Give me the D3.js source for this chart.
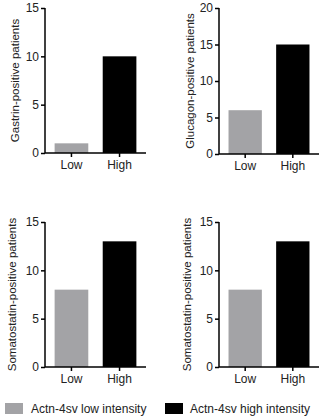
<!DOCTYPE html>
<html><head><meta charset="utf-8">
<script src="https://cdn.jsdelivr.net/npm/d3@7"></script>
<style>
html,body{margin:0;padding:0;background:#fff;}
svg{display:block;font-family:"Liberation Sans",Arial,sans-serif;}
</style></head>
<body>
<svg id="chart" width="321" height="420"></svg>
<script>
const categories = ["Low", "High"];
const panelLabels = ["Gastrin-positive patients", "Glucagon-positive patients", "Somatostatin-positive patients", "Somatostatin-positive patients"];
const lowValues = [1, 6, 8, 8];
const highValues = [10, 15, 13, 13];
const yMaxes = [15, 20, 15, 15];
const yTicks = [[0, 5, 10, 15], [0, 5, 10, 15, 20], [0, 5, 10, 15], [0, 5, 10, 15]];
const legendLabels = ["Actn-4sv low intensity", "Actn-4sv high intensity"];
const colors = {Low: "#a3a3a6", High: "#000000"};

const svg = d3.select("#chart");
const layouts = [
  {x0: 45, x1: 146, top: 8, bottom: 153, labelX: 16},
  {x0: 219, x1: 319, top: 8, bottom: 154, labelX: 191},
  {x0: 45, x1: 146, top: 222, bottom: 367, labelX: 13},
  {x0: 219, x1: 319, top: 222, bottom: 367, labelX: 188}
];

layouts.forEach((L, i) => {
  const g = svg.append("g");
  const x = d3.scaleBand().domain(categories).range([L.x0, L.x1]).paddingInner(0.3).paddingOuter(0.2);
  const y = d3.scaleLinear().domain([0, yMaxes[i]]).range([L.bottom, L.top]);
  const vals = {Low: lowValues[i], High: highValues[i]};

  g.selectAll("rect").data(categories).join("rect")
    .attr("x", d => x(d)).attr("width", x.bandwidth())
    .attr("y", d => y(vals[d])).attr("height", d => y(0) - y(vals[d]))
    .attr("fill", d => colors[d]);

  const ya = g.append("g").attr("transform", `translate(${L.x0},0)`)
    .call(d3.axisLeft(y).tickValues(yTicks[i]).tickSize(4).tickPadding(2).tickFormat(d3.format("d")));
  const xa = g.append("g").attr("transform", `translate(0,${L.bottom})`)
    .call(d3.axisBottom(x).tickSize(4).tickPadding(3));
  [ya, xa].forEach(a => {
    a.select(".domain").attr("stroke", "#000").attr("stroke-width", 1.5);
    a.selectAll(".tick line").attr("stroke", "#000").attr("stroke-width", 1.5);
    a.selectAll(".tick text").attr("fill", "#222").style("font-size", "12px").style("font-family", "Liberation Sans, Arial, sans-serif");
  });
  xa.select(".domain").attr("d", `M${L.x0},0H${L.x1}`);
  ya.select(".domain").attr("d", `M0,${L.bottom}V${L.top}`);

  g.append("text")
    .attr("transform", `translate(${L.labelX},${(L.top + L.bottom) / 2}) rotate(-90)`)
    .attr("text-anchor", "middle").attr("dominant-baseline", "middle")
    .attr("fill", "#222").style("font-size", "11.5px")
    .text(panelLabels[i]);
});

const legendItems = [
  {key: "Low", sx: 5, tx: 31},
  {key: "High", sx: 165, tx: 190}
];
const lg = svg.append("g");
legendItems.forEach((it, i) => {
  lg.append("rect").attr("x", it.sx).attr("y", 403).attr("width", 18).attr("height", 11).attr("fill", colors[it.key]);
  lg.append("text").attr("x", it.tx).attr("y", 413).attr("fill", "#222").style("font-size", "12px").text(legendLabels[i]);
});
</script>
</body></html>
